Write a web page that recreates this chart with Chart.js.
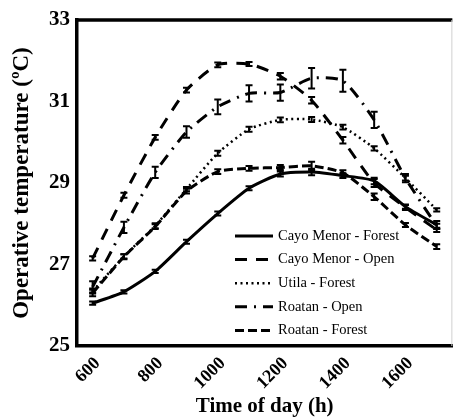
<!DOCTYPE html>
<html lang="en">
<head>
<meta charset="UTF-8">
<title>Operative temperature</title>
<script src="https://cdn.jsdelivr.net/npm/chart.js"></script>
<style>
  body { margin: 0; background: #fff; }
</style>
</head>
<body>
<canvas id="tempChart" width="459" height="419"></canvas>
<script>
  // time of day (x categories), only every other one gets a label
  var hours = ['600', '700', '800', '900', '1000', '1100', '1200', '1300', '1400', '1500', '1600', '1700'];

  var seriesNames = ['Cayo Menor - Forest', 'Cayo Menor - Open', 'Utila - Forest', 'Roatan - Open', 'Roatan - Forest'];

  // mean operative temperature (ºC)
  var cayoForest  = [26.05, 26.33, 26.83, 27.56, 28.25, 28.87, 29.22, 29.27, 29.18, 29.05, 28.42, 27.97];
  var cayoOpen    = [27.15, 28.70, 30.12, 31.28, 31.90, 31.92, 31.62, 31.03, 30.05, 29.00, 28.40, 27.85];
  var utilaForest = [26.35, 27.20, 27.95, 28.85, 29.73, 30.32, 30.55, 30.56, 30.37, 29.85, 29.12, 28.34];
  var roatanOpen  = [26.45, 27.91, 29.26, 30.25, 30.87, 31.20, 31.22, 31.57, 31.51, 30.55, 29.12, 27.94];
  var roatanForest= [26.30, 27.19, 27.93, 28.80, 29.28, 29.36, 29.38, 29.42, 29.25, 28.66, 27.97, 27.44];

  // error bar half-lengths
  var cayoForestErr  = [0.04, 0.04, 0.04, 0.05, 0.05, 0.05, 0.06, 0.08, 0.06, 0.08, 0.05, 0.10];
  var cayoOpenErr    = [0.05, 0.06, 0.06, 0.06, 0.06, 0.05, 0.08, 0.08, 0.08, 0.10, 0.06, 0.05];
  var utilaForestErr = [0.06, 0.05, 0.06, 0.05, 0.06, 0.06, 0.06, 0.06, 0.06, 0.05, 0.06, 0.04];
  var roatanOpenErr  = [0.14, 0.14, 0.14, 0.14, 0.18, 0.20, 0.20, 0.25, 0.27, 0.20, 0.10, 0.06];
  var roatanForestErr= [0.08, 0.06, 0.06, 0.06, 0.06, 0.06, 0.06, 0.10, 0.06, 0.08, 0.05, 0.06];

  var yTicks = [25, 27, 29, 31, 33];

  var serif = '"Liberation Serif", "Times New Roman", serif';

  function line(label, data, errors, dash, width) {
    return {
      label: label,
      data: data,
      errors: errors,
      borderColor: '#000',
      backgroundColor: '#000',
      borderWidth: width,
      borderDash: dash,
      pointRadius: 0,
      tension: 0.2,
      fill: false
    };
  }

  // draws the little I-shaped error bars
  var errorBars = {
    id: 'errorBars',
    afterDatasetsDraw: function(chart) {
      var ctx = chart.ctx, ys = chart.scales.y;
      chart.data.datasets.forEach(function(ds, i) {
        var meta = chart.getDatasetMeta(i);
        ctx.save();
        ctx.strokeStyle = '#000';
        ctx.lineWidth = 2;
        ctx.setLineDash([]);
        meta.data.forEach(function(pt, j) {
          var v = ds.data[j], e = ds.errors[j];
          var top = ys.getPixelForValue(v + e), bot = ys.getPixelForValue(v - e);
          ctx.beginPath();
          ctx.moveTo(pt.x, top); ctx.lineTo(pt.x, bot);
          ctx.moveTo(pt.x - 3.5, top); ctx.lineTo(pt.x + 3.5, top);
          ctx.moveTo(pt.x - 3.5, bot); ctx.lineTo(pt.x + 3.5, bot);
          ctx.stroke();
        });
        ctx.restore();
      });
    }
  };

  // top border of the plot box + thin right edge
  var frame = {
    id: 'frame',
    beforeDatasetsDraw: function(chart) {
      var a = chart.chartArea, ctx = chart.ctx;
      ctx.save();
      ctx.strokeStyle = '#000';
      ctx.lineWidth = 3.5;
      ctx.beginPath();
      ctx.moveTo(a.left - 1.5, a.top);
      ctx.lineTo(a.right, a.top);
      ctx.stroke();
      ctx.strokeStyle = '#d0d0d0';
      ctx.lineWidth = 1;
      ctx.beginPath();
      ctx.moveTo(a.right - 0.5, a.top);
      ctx.lineTo(a.right - 0.5, a.bottom);
      ctx.stroke();
      ctx.restore();
    }
  };

  // legend sits inside the plot, lower right
  var insideLegend = {
    id: 'insideLegend',
    afterDraw: function(chart) {
      var ctx = chart.ctx;
      ctx.save();
      ctx.font = '14.5px ' + serif;
      ctx.textBaseline = 'middle';
      ctx.fillStyle = '#000';
      ctx.strokeStyle = '#000';
      chart.data.datasets.forEach(function(ds, i) {
        var yy = 236 + i * 23.6;
        ctx.beginPath();
        ctx.setLineDash(ds.borderDash);
        ctx.lineWidth = ds.borderWidth;
        ctx.moveTo(235, yy);
        ctx.lineTo(273, yy);
        ctx.stroke();
        ctx.setLineDash([]);
        ctx.fillText(ds.label, 278, yy);
      });
      ctx.restore();
    }
  };

  var ctx = document.getElementById('tempChart').getContext('2d');
  var tempChart = new Chart(ctx, {
    type: 'line',
    data: {
      labels: hours,
      datasets: [
        line(seriesNames[0], cayoForest, cayoForestErr, [], 3),
        line(seriesNames[1], cayoOpen, cayoOpenErr, [12, 9], 3),
        line(seriesNames[2], utilaForest, utilaForestErr, [2, 3.5], 2.5),
        line(seriesNames[3], roatanOpen, roatanOpenErr, [12, 7, 2, 7], 3),
        line(seriesNames[4], roatanForest, roatanForestErr, [9, 4], 3)
      ]
    },
    options: {
      responsive: false,
      animation: false,
      layout: { padding: { top: 20, right: 0, left: 0, bottom: 0 } },
      plugins: {
        legend: { display: false },
        tooltip: { enabled: false }
      },
      scales: {
        x: {
          type: 'category',
          offset: true,
          grid: { display: false, drawTicks: false },
          border: { display: true, color: '#000', width: 3.5 },
          ticks: {
            autoSkip: false,
            minRotation: 45,
            maxRotation: 45,
            padding: 7,
            labelOffset: 5,
            color: '#000',
            font: { family: serif, size: 18, weight: 'bold' },
            callback: function(val, idx) {
              return idx % 2 === 0 ? this.getLabelForValue(val) : '';
            }
          },
          title: {
            display: true,
            text: 'Time of day (h)',
            color: '#000',
            padding: { top: 0, bottom: 0 },
            font: { family: serif, size: 21, weight: 'bold' }
          },
          afterFit: function(s) { s.height = 73; }
        },
        y: {
          min: 25,
          max: 33,
          grid: { display: false, drawTicks: false },
          border: { display: true, color: '#000', width: 3.5 },
          afterBuildTicks: function(s) {
            s.ticks = yTicks.map(function(v) { return { value: v }; });
          },
          ticks: {
            padding: 7,
            color: '#000',
            font: { family: serif, size: 21, weight: 'bold' }
          },
          title: {
            display: true,
            text: 'Operative temperature (ºC)',
            color: '#000',
            padding: { top: 8, bottom: 0 },
            font: { family: serif, size: 23, weight: 'bold' }
          },
          afterFit: function(s) { s.width = 77; }
        }
      }
    },
    plugins: [frame, errorBars, insideLegend]
  });
</script>
</body>
</html>
